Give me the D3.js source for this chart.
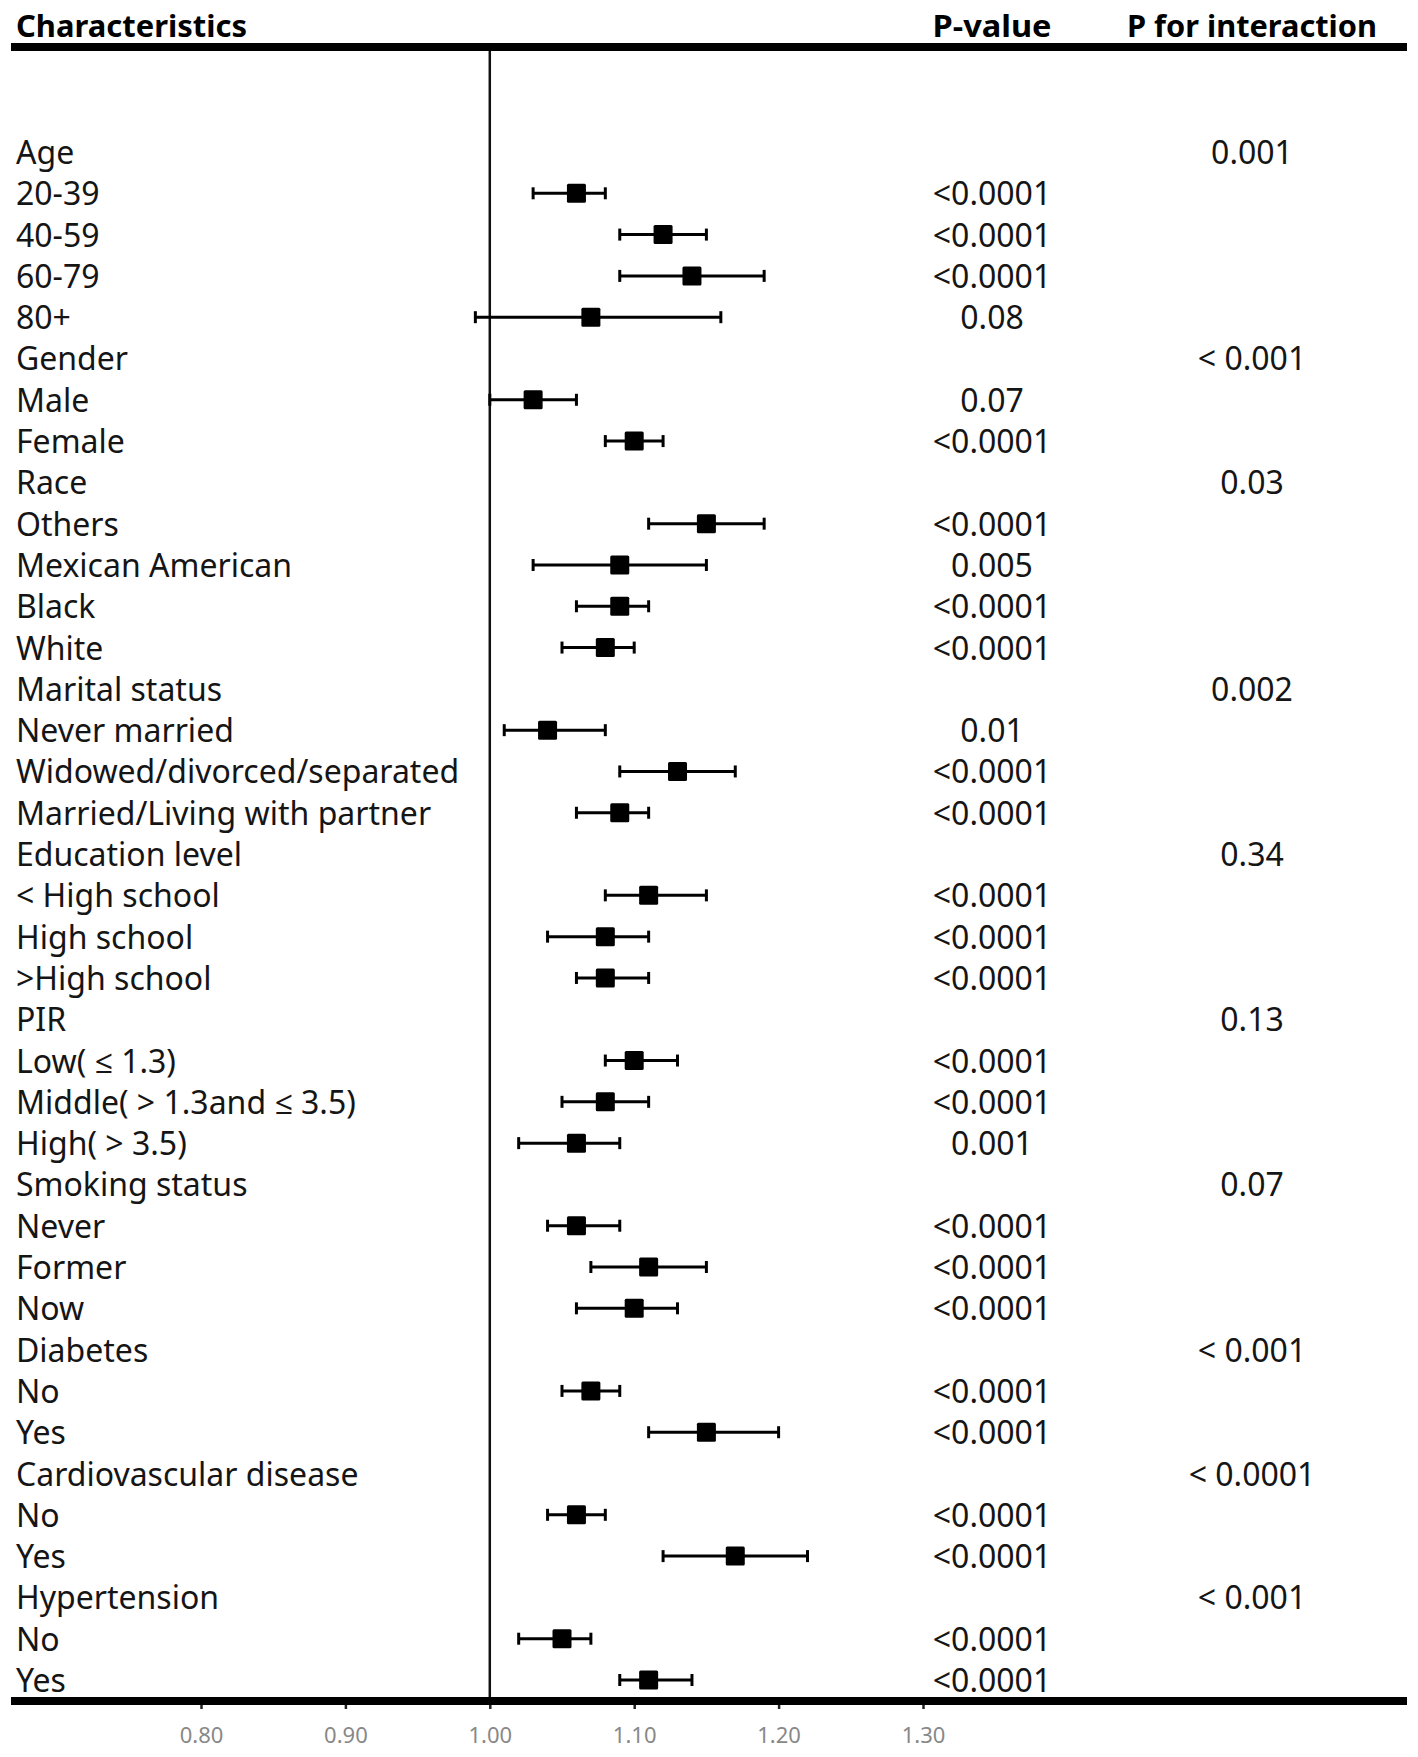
<!DOCTYPE html>
<html>
<head>
<meta charset="utf-8">
<script src="https://d3js.org/d3.v7.min.js"></script>
<style>
  body { margin: 0; background: #fff; }
  text { font-family: "Noto Sans", "Open Sans", sans-serif; }
  .label { font-size: 32px; fill: #151515; }
  .pval { font-size: 32px; fill: #151515; }
  .head { font-size: 31px; font-weight: bold; fill: #000; }
  .tick text { font-size: 22px; fill: #888; }
  .tick line { stroke: #222; stroke-width: 2.5; }
</style>
</head>
<body>
<svg id="chart" width="1418" height="1757"></svg>
<script>
// rows of the forest plot, top to bottom (group headers have no estimate)
var labels = ["Age", "20-39", "40-59", "60-79", "80+",
  "Gender", "Male", "Female",
  "Race", "Others", "Mexican American", "Black", "White",
  "Marital status", "Never married", "Widowed/divorced/separated", "Married/Living with partner",
  "Education level", "< High school", "High school", ">High school",
  "PIR", "Low( \u2264 1.3)", "Middle( > 1.3and \u2264 3.5)", "High( > 3.5)",
  "Smoking status", "Never", "Former", "Now",
  "Diabetes", "No", "Yes",
  "Cardiovascular disease", "No", "Yes",
  "Hypertension", "No", "Yes"];

var estimate = [null, 1.06, 1.12, 1.14, 1.07,
  null, 1.03, 1.10,
  null, 1.15, 1.09, 1.09, 1.08,
  null, 1.04, 1.13, 1.09,
  null, 1.11, 1.08, 1.08,
  null, 1.10, 1.08, 1.06,
  null, 1.06, 1.11, 1.10,
  null, 1.07, 1.15,
  null, 1.06, 1.17,
  null, 1.05, 1.11];

var lower = [null, 1.03, 1.09, 1.09, 0.99,
  null, 1.00, 1.08,
  null, 1.11, 1.03, 1.06, 1.05,
  null, 1.01, 1.09, 1.06,
  null, 1.08, 1.04, 1.06,
  null, 1.08, 1.05, 1.02,
  null, 1.04, 1.07, 1.06,
  null, 1.05, 1.11,
  null, 1.04, 1.12,
  null, 1.02, 1.09];

var upper = [null, 1.08, 1.15, 1.19, 1.16,
  null, 1.06, 1.12,
  null, 1.19, 1.15, 1.11, 1.10,
  null, 1.08, 1.17, 1.11,
  null, 1.15, 1.11, 1.11,
  null, 1.13, 1.11, 1.09,
  null, 1.09, 1.15, 1.13,
  null, 1.09, 1.20,
  null, 1.08, 1.22,
  null, 1.07, 1.14];

var pValues = ["", "<0.0001", "<0.0001", "<0.0001", "0.08",
  "", "0.07", "<0.0001",
  "", "<0.0001", "0.005", "<0.0001", "<0.0001",
  "", "0.01", "<0.0001", "<0.0001",
  "", "<0.0001", "<0.0001", "<0.0001",
  "", "<0.0001", "<0.0001", "0.001",
  "", "<0.0001", "<0.0001", "<0.0001",
  "", "<0.0001", "<0.0001",
  "", "<0.0001", "<0.0001",
  "", "<0.0001", "<0.0001"];

var pInteraction = ["0.001", "", "", "", "",
  "< 0.001", "", "",
  "0.03", "", "", "", "",
  "0.002", "", "", "",
  "0.34", "", "", "",
  "0.13", "", "", "",
  "0.07", "", "", "",
  "< 0.001", "", "",
  "< 0.0001", "", "",
  "< 0.001", "", ""];

var xTicks = [0.80, 0.90, 1.00, 1.10, 1.20, 1.30];

var rows = labels.map(function(d, i) {
  return {id: i, label: d, est: estimate[i], lo: lower[i], hi: upper[i],
          p: pValues[i], pint: pInteraction[i]};
});

var svg = d3.select("#chart");

var lineLeft = 11, lineRight = 1407;
var topLine = 47, bottomLine = 1701;
var pCol = 992, pintCol = 1252;

var xScale = d3.scaleLinear()
  .domain([0.80, 1.30])
  .range([201, 923]);

var yScale = d3.scalePoint()
  .domain(rows.map(function(d) { return d.id; }))
  .range([152, 1680]);

// headers
svg.append("text").attr("class", "head")
  .attr("x", 16).attr("y", 37)
  .attr("textLength", 231).attr("lengthAdjust", "spacingAndGlyphs")
  .text("Characteristics");
svg.append("text").attr("class", "head")
  .attr("x", pCol).attr("y", 37).attr("text-anchor", "middle")
  .attr("textLength", 119).attr("lengthAdjust", "spacingAndGlyphs")
  .text("P-value");
svg.append("text").attr("class", "head")
  .attr("x", pintCol).attr("y", 37).attr("text-anchor", "middle")
  .attr("textLength", 250).attr("lengthAdjust", "spacingAndGlyphs")
  .text("P for interaction");

// x axis
var axis = svg.append("g")
  .attr("transform", "translate(0," + bottomLine + ")")
  .call(d3.axisBottom(xScale)
    .tickValues(xTicks)
    .tickFormat(d3.format(".2f"))
    .tickSize(8)
    .tickPadding(18));
axis.select(".domain").remove();

// reference line at 1
svg.append("line")
  .attr("x1", xScale(1)).attr("x2", xScale(1))
  .attr("y1", topLine).attr("y2", bottomLine)
  .attr("stroke", "#111").attr("stroke-width", 2.5);

// thick rules
svg.append("line")
  .attr("x1", lineLeft).attr("x2", lineRight)
  .attr("y1", topLine).attr("y2", topLine)
  .attr("stroke", "#000").attr("stroke-width", 8);
svg.append("line")
  .attr("x1", lineLeft).attr("x2", lineRight)
  .attr("y1", bottomLine).attr("y2", bottomLine)
  .attr("stroke", "#000").attr("stroke-width", 8);

var rowG = svg.selectAll(".row")
  .data(rows)
  .enter()
  .append("g")
  .attr("class", "row")
  .attr("transform", function(d) { return "translate(0," + yScale(d.id) + ")"; });

rowG.append("text")
  .attr("class", "label")
  .attr("x", 16).attr("y", 12)
  .text(function(d) { return d.label; });

rowG.append("text")
  .attr("class", "pval")
  .attr("x", pCol).attr("y", 12)
  .attr("text-anchor", "middle")
  .text(function(d) { return d.p; });

rowG.append("text")
  .attr("class", "pval")
  .attr("x", pintCol).attr("y", 12)
  .attr("text-anchor", "middle")
  .text(function(d) { return d.pint; });

var est = rowG.filter(function(d) { return d.est != null; });

est.append("line")
  .attr("x1", function(d) { return xScale(d.lo); })
  .attr("x2", function(d) { return xScale(d.hi); })
  .attr("y1", 0).attr("y2", 0)
  .attr("stroke", "#000").attr("stroke-width", 3);

est.selectAll(".cap")
  .data(function(d) { return [d.lo, d.hi]; })
  .enter()
  .append("line")
  .attr("class", "cap")
  .attr("x1", function(v) { return xScale(v); })
  .attr("x2", function(v) { return xScale(v); })
  .attr("y1", -6).attr("y2", 6)
  .attr("stroke", "#000").attr("stroke-width", 3);

est.append("rect")
  .attr("x", function(d) { return xScale(d.est) - 9.5; })
  .attr("y", -9.5)
  .attr("width", 19).attr("height", 19)
  .attr("rx", 1.5)
  .attr("fill", "#000");
</script>
</body>
</html>
